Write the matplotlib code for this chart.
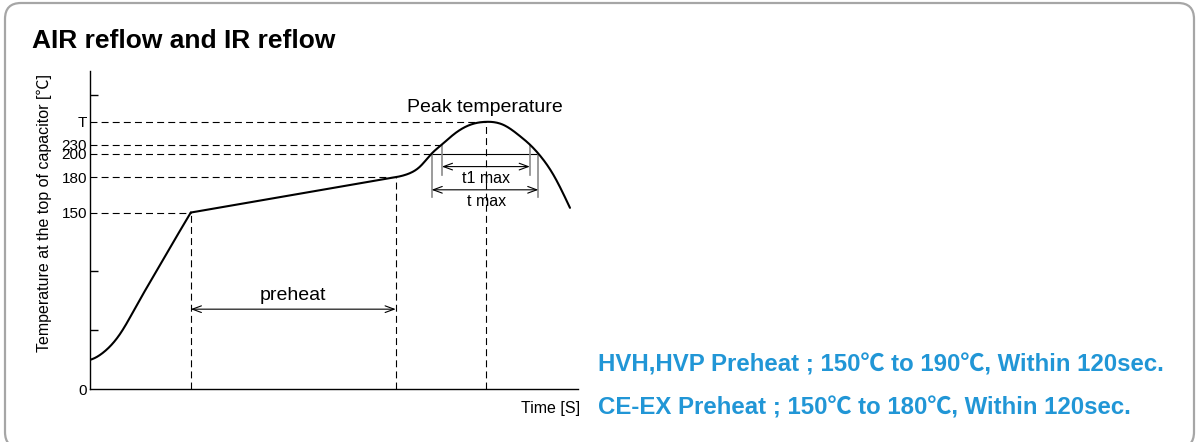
import numpy as np
import matplotlib.pyplot as plt
from matplotlib.patches import FancyBboxPatch

plt.rcParams['font.family'] = ['Liberation Sans', 'Noto Sans CJK JP']
plt.rcParams['lines.scale_dashes'] = False

# reflow profile as (time [s], temperature [C])
ramp_time = [0, 8, 17.6, 28, 38, 48, 59]
ramp_temp = [25, 31.5, 47, 73, 98, 123, 150]
soak_time = [59, 100, 140, 170, 179, 187.4, 193.2, 200, 206, 212.7, 222.5, 232,
             242, 251.8, 257.5, 262.5, 271.3, 281]
soak_temp = [150, 160.25, 170.25, 177.75, 180, 183.5, 189, 200, 230, 243, 256, 260,
             256, 241, 230, 200, 182, 154]
ramp_start_slope = 0.4
soak_start_slope = 0.25

level_temps = [0, 150, 180, 200, 230, 260]
level_labels = ['0', '150', '180', '200', '230', 'T']
minor_temps = [50, 100, 300]

preheat_start, preheat_end = 59, 179
peak_time, peak_temp = 232, 260
t1_window = (206, 257.5)   # time above 230
t_window = (200, 262.5)    # time above 200

notes = ['HVH,HVP Preheat ; 150℃ to 190℃, Within 120sec.',
         'CE-EX Preheat ; 150℃ to 180℃, Within 120sec.']

# schematic temperature axis: linear up to 200, squeezed above
scale_temp = [-100, 0, 200, 230, 260, 300, 400]
scale_height = [-100, 0, 200, 207.7, 227, 250, 307.5]


def forward(t):
    return np.interp(t, scale_temp, scale_height)


def inverse(h):
    return np.interp(h, scale_height, scale_temp)


def cubic_spline(x, y, xs, d0):
    """Cubic spline, clamped slope at the start, natural at the end."""
    x = np.asarray(x, float)
    y = np.asarray(y, float)
    n = len(x)
    h = np.diff(x)
    A = np.zeros((n, n))
    b = np.zeros(n)
    A[0, 0], A[0, 1] = 2 * h[0], h[0]
    b[0] = 6 * ((y[1] - y[0]) / h[0] - d0)
    for i in range(1, n - 1):
        A[i, i - 1], A[i, i], A[i, i + 1] = h[i - 1], 2 * (h[i - 1] + h[i]), h[i]
        b[i] = 6 * ((y[i + 1] - y[i]) / h[i] - (y[i] - y[i - 1]) / h[i - 1])
    A[-1, -1] = 1
    M = np.linalg.solve(A, b)
    i = np.clip(np.searchsorted(x, xs) - 1, 0, n - 2)
    a, c = x[i + 1] - xs, xs - x[i]
    return (M[i] * a**3 + M[i + 1] * c**3) / (6 * h[i]) \
        + (y[i] / h[i] - M[i] * h[i] / 6) * a + (y[i + 1] / h[i] - M[i + 1] * h[i] / 6) * c


def profile(times, temps, d0):
    xs = np.linspace(times[0], times[-1], 500)
    hs = cubic_spline(times, forward(np.array(temps, float)), xs, d0)
    return xs, inverse(hs)


fig = plt.figure(figsize=(11.97, 4.42), dpi=100)
fig.patches.append(FancyBboxPatch((0.05, -0.06), 11.89, 4.45,
                                  boxstyle='round,pad=0,rounding_size=0.16',
                                  transform=fig.dpi_scale_trans,
                                  fc='none', ec='#a6a6a6', lw=1.6))

ax = fig.add_axes([90 / 1197, 52.7 / 442, 488 / 1197, 318.3 / 442])
ax.set_yscale('function', functions=(forward, inverse))
ax.set_xlim(0, 285.7)
ax.set_ylim(0, 335)

for sp in ['top', 'right']:
    ax.spines[sp].set_visible(False)
for sp in ['left', 'bottom']:
    ax.spines[sp].set_linewidth(1.0)
ax.set_xticks([])
ax.set_yticks(level_temps, level_labels)
ax.set_yticks(minor_temps, minor=True)
ax.yaxis.set_minor_formatter(plt.NullFormatter())
ax.tick_params(axis='y', which='major', length=0, pad=2, labelsize=11)
ax.tick_params(axis='y', which='minor', direction='in', length=5.8, width=1)

dash = dict(color='black', lw=0.8, ls=(0, (5, 3)))
for temp, end in [(150, preheat_start), (180, preheat_end),
                  (200, t_window[0]), (230, t1_window[0]),
                  (peak_temp, peak_time)]:
    ax.plot([0, end], [temp, temp], **dash)
ax.plot([preheat_start] * 2, [0, 150], **dash)
ax.plot([preheat_end] * 2, [0, 180], **dash)
ax.plot([peak_time] * 2, [0, peak_temp], **dash)
ax.plot(t_window, [200, 200], color='black', lw=0.8)

for x in t1_window:
    ax.plot([x, x], [182, 230], color='#8a8a8a', lw=1.2)
for x in t_window:
    ax.plot([x, x], [163, 200], color='#8a8a8a', lw=1.2)

# heating curve: ramp up to 150, then preheat, reflow peak and cooling
for times, temps, d0 in [(ramp_time, ramp_temp, ramp_start_slope),
                         (soak_time, soak_temp, soak_start_slope)]:
    xs, ys = profile(times, temps, d0)
    ax.plot(xs, ys, color='black', lw=1.5, solid_capstyle='round')

arrow = dict(arrowstyle='<->,head_length=0.65,head_width=0.24',
             lw=0.8, color='black', shrinkA=0, shrinkB=0)
ax.annotate('', xy=(preheat_end, 68), xytext=(preheat_start, 68), arrowprops=arrow)
ax.annotate('', xy=(t1_window[1], 189), xytext=(t1_window[0], 189), arrowprops=arrow)
ax.annotate('', xy=(t_window[1], 169.3), xytext=(t_window[0], 169.3), arrowprops=arrow)

ax.text((preheat_start + preheat_end) / 2, 80, 'preheat', ha='center', va='center', fontsize=14)
ax.text(peak_time, 179.3, 't1 max', ha='center', va='center', fontsize=11.5)
ax.text(peak_time, 159.4, 't max', ha='center', va='center', fontsize=11.5)
ax.text(peak_time - 1, 281, 'Peak temperature', ha='center', va='center', fontsize=14)

ax.set_ylabel('Temperature at the top of capacitor [℃]', fontsize=11.5)
ax.yaxis.set_label_coords(-0.078, 0.554)
ax.text(1.004, -0.059, 'Time [S]', transform=ax.transAxes,
        ha='right', va='center', fontsize=11.5)

fig.text(31.7 / 1197, 1 - 48 / 442, 'AIR reflow and IR reflow',
         fontsize=19, fontweight='bold', va='baseline')
for k, line in enumerate(notes):
    fig.text(598 / 1197, 1 - (371.5 + 43 * k) / 442, line, color='#2196d6',
             fontsize=17.3, fontweight='bold', va='baseline')

fig.savefig('out.png', dpi=100)
